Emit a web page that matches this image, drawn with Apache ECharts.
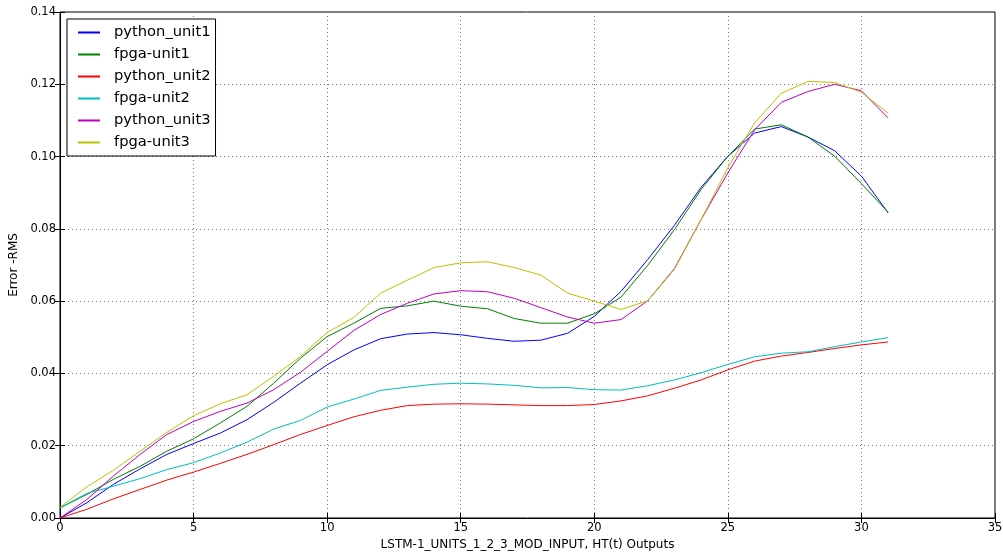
<!DOCTYPE html>
<html>
<head>
<meta charset="utf-8">
<script src="https://cdn.jsdelivr.net/npm/echarts@6/dist/echarts.min.js"></script>
<style>html,body{margin:0;padding:0;background:#fff;}#c{width:1003px;height:557px;}</style>
</head>
<body>
<div id="c"></div>
<script>
const xValues = Array.from({length: 32}, (_, i) => i);
const seriesNames = ['python_unit1', 'fpga-unit1', 'python_unit2', 'fpga-unit2', 'python_unit3', 'fpga-unit3'];
const python_unit1 = [0.0000,0.0042,0.0093,0.0136,0.0176,0.0206,0.0235,0.0272,0.0320,0.0373,0.0424,0.0465,0.0496,0.0509,0.0513,0.0507,0.0497,0.0489,0.0492,0.0511,0.0558,0.0627,0.0715,0.0810,0.0915,0.1001,0.1065,0.1083,0.1054,0.1016,0.0946,0.0844];
const fpga_unit1   = [0.0028,0.0065,0.0107,0.0143,0.0185,0.0219,0.0263,0.0309,0.0373,0.0442,0.0502,0.0539,0.0580,0.0587,0.0600,0.0586,0.0579,0.0552,0.0539,0.0539,0.0565,0.0611,0.0699,0.0798,0.0909,0.1001,0.1076,0.1088,0.1054,0.1001,0.0925,0.0846];
const python_unit2 = [0.0000,0.0024,0.0053,0.0079,0.0105,0.0127,0.0151,0.0176,0.0203,0.0231,0.0256,0.0280,0.0298,0.0311,0.0315,0.0316,0.0315,0.0313,0.0311,0.0311,0.0314,0.0324,0.0338,0.0359,0.0382,0.0410,0.0434,0.0448,0.0458,0.0469,0.0479,0.0487];
const fpga_unit2   = [0.0028,0.0068,0.0088,0.0109,0.0134,0.0153,0.0180,0.0210,0.0246,0.0270,0.0307,0.0329,0.0353,0.0362,0.0370,0.0373,0.0371,0.0367,0.0360,0.0361,0.0355,0.0354,0.0366,0.0382,0.0402,0.0425,0.0446,0.0456,0.0460,0.0474,0.0487,0.0499];
const python_unit3 = [0.0000,0.0051,0.0116,0.0176,0.0231,0.0267,0.0295,0.0318,0.0355,0.0403,0.0461,0.0519,0.0563,0.0594,0.0620,0.0629,0.0626,0.0608,0.0582,0.0556,0.0539,0.0549,0.0601,0.0690,0.0826,0.0955,0.1074,0.1150,0.1180,0.1200,0.1182,0.1107];
const fpga_unit3   = [0.0029,0.0086,0.0132,0.0185,0.0237,0.0283,0.0316,0.0341,0.0392,0.0447,0.0513,0.0555,0.0622,0.0658,0.0693,0.0706,0.0709,0.0693,0.0672,0.0622,0.0600,0.0577,0.0601,0.0688,0.0826,0.0969,0.1093,0.1175,0.1208,0.1205,0.1178,0.1120];
const seriesData = [python_unit1, fpga_unit1, python_unit2, fpga_unit2, python_unit3, fpga_unit3];
const colors = ['#0000ff', '#008000', '#ff0000', '#00bfbf', '#bf00bf', '#bfbf00'];
const xTicks = {min: 0, max: 35, interval: 5};
const yTicks = {min: 0, max: 0.14, interval: 0.02};
const xLabel = 'LSTM-1_UNITS_1_2_3_MOD_INPUT, HT(t) Outputs';
const yLabel = 'Error -RMS';

const font = 'DejaVu Sans';
const tickStyle = {show: true, inside: true, length: 5, lineStyle: {color: '#000', width: 1}};
const chart = echarts.init(document.getElementById('c'), null, {renderer: 'canvas'});
chart.setOption({
  animation: false,
  backgroundColor: '#fff',
  grid: {left: 60, right: 8, top: 12, bottom: 39, show: true, borderColor: '#000', borderWidth: 1, outerBoundsMode: 'none', containLabel: false},
  legend: {
    data: seriesNames,
    orient: 'vertical',
    left: 67, top: 19,
    padding: [6, 5, 6, 10],
    itemWidth: 22, itemHeight: 14, itemGap: 7,
    backgroundColor: '#fff',
    borderColor: '#000', borderWidth: 1,
    itemStyle: {opacity: 0},
    textStyle: {fontFamily: font, fontSize: 14.7, color: '#000', padding: [0, 0, 0, 9]}
  },
  xAxis: [{
    type: 'value', min: xTicks.min, max: xTicks.max, interval: xTicks.interval,
    name: xLabel, nameLocation: 'middle', nameGap: 20,
    nameTextStyle: {fontFamily: font, fontSize: 12, color: '#000'},
    axisLine: {show: true, lineStyle: {color: '#000'}},
    axisTick: tickStyle,
    axisLabel: {fontFamily: font, fontSize: 11.5, color: '#000', margin: 4},
    splitLine: {show: true, lineStyle: {color: '#777', type: [1, 3], width: 1}}
  }, {
    type: 'value', position: 'top', min: xTicks.min, max: xTicks.max, interval: xTicks.interval,
    axisLine: {show: false}, axisTick: tickStyle, axisLabel: {show: false}, splitLine: {show: false}
  }],
  yAxis: [{
    type: 'value', min: yTicks.min, max: yTicks.max, interval: yTicks.interval,
    name: yLabel, nameLocation: 'middle', nameGap: 35,
    nameTextStyle: {fontFamily: font, fontSize: 12, color: '#000'},
    axisLine: {show: true, lineStyle: {color: '#000'}},
    axisTick: tickStyle,
    axisLabel: {fontFamily: font, fontSize: 11.5, color: '#000', margin: 4, formatter: v => v.toFixed(2)},
    splitLine: {show: true, lineStyle: {color: '#777', type: [1, 3], width: 1}}
  }, {
    type: 'value', position: 'right', min: yTicks.min, max: yTicks.max, interval: yTicks.interval,
    axisLine: {show: false}, axisTick: tickStyle, axisLabel: {show: false}, splitLine: {show: false}
  }],
  series: seriesNames.map((n, i) => ({
    name: n, type: 'line', symbol: 'none', xAxisIndex: 0, yAxisIndex: 0,
    data: xValues.map((x, j) => [x, seriesData[i][j]]),
    lineStyle: {color: colors[i], width: 1},
    itemStyle: {color: colors[i]},
    emphasis: {disabled: true}
  }))
});
</script>
</body>
</html>
